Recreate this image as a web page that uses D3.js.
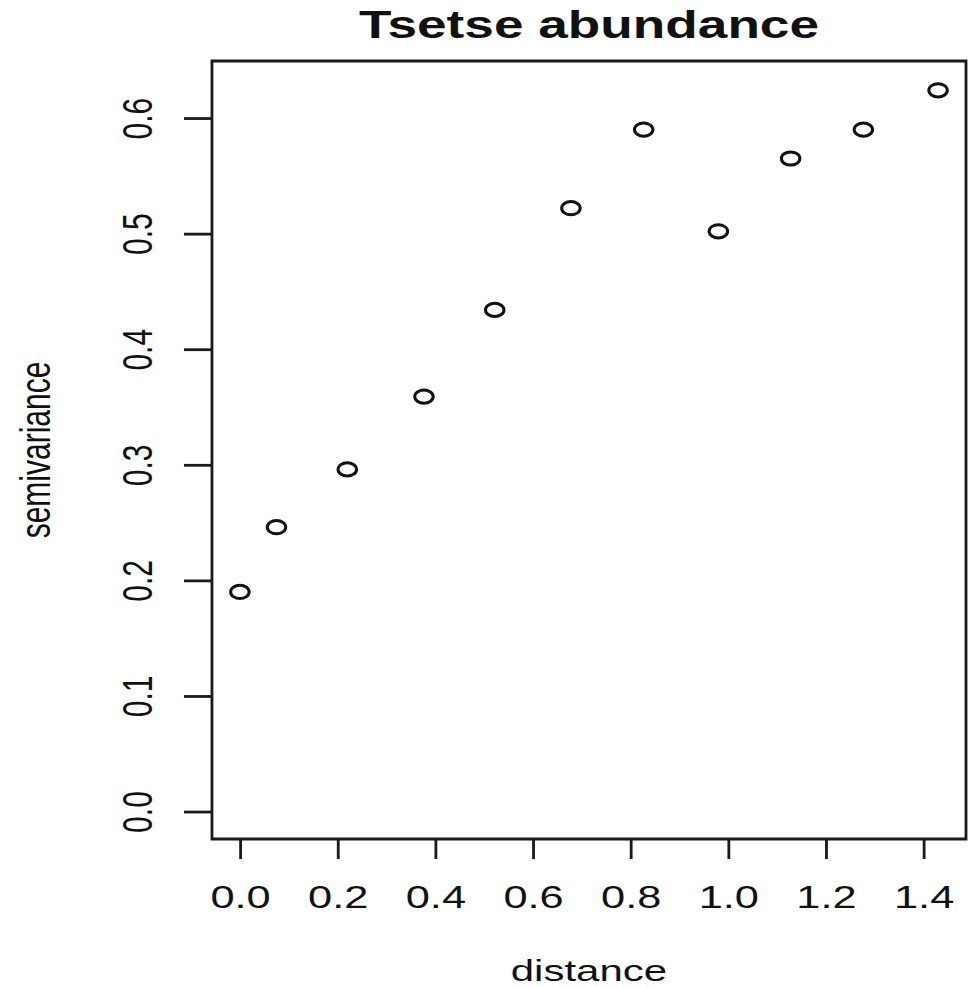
<!DOCTYPE html>
<html>
<head>
<meta charset="utf-8">
<script src="https://cdn.jsdelivr.net/npm/d3@7"></script>
<style>
  body { margin: 0; background: #fff; }
  svg text { font-family: "Liberation Sans", Arial, sans-serif; fill: #111; }
</style>
</head>
<body>
<svg id="canvas"></svg>
<script>
// semivariogram values
let distance     = [0.0, 0.075, 0.220, 0.377, 0.522, 0.678, 0.827, 0.980, 1.128, 1.277, 1.430];
let semivariance = [0.190, 0.246, 0.296, 0.359, 0.434, 0.522, 0.590, 0.502, 0.565, 0.590, 0.624];

let xTicks = [0, 0.2, 0.4, 0.6, 0.8, 1.0, 1.2, 1.4];
let yTicks = [0, 0.1, 0.2, 0.3, 0.4, 0.5, 0.6];

let width = 969;
let height = 987;
// the source image is stretched sideways, so draw narrow and stretch
let stretch = 1.4;
let innerWidth = width / stretch;

let plotLeft = 151.4, plotRight = 690, plotTop = 61, plotBottom = 839;

let canvas = d3.select("#canvas")
    .attr("width", width)
    .attr("height", height)
    .attr("viewBox", `0 0 ${innerWidth} ${height}`)
    .attr("preserveAspectRatio", "none");

// R pads the data range by 4% on each side
let xScale = d3.scaleLinear()
    .domain([-0.0572, 1.4872])
    .range([plotLeft, plotRight]);

let yScale = d3.scaleLinear()
    .domain([-0.02376, 0.64936])
    .range([plotBottom, plotTop]);

// box
canvas.append("rect")
    .attr("x", plotLeft)
    .attr("y", plotTop)
    .attr("width", plotRight - plotLeft)
    .attr("height", plotBottom - plotTop)
    .attr("fill", "none")
    .attr("stroke", "#1a1a1a")
    .attr("stroke-width", 2.8)
    .attr("vector-effect", "non-scaling-stroke");

let xAxis = d3.axisBottom(xScale)
    .tickValues(xTicks)
    .tickFormat(d3.format(".1f"))
    .tickSize(20);

let gx = canvas.append("g")
    .attr("transform", "translate(0," + plotBottom + ")")
    .call(xAxis);

gx.select(".domain").remove();
gx.selectAll("line")
    .attr("stroke", "#1a1a1a")
    .attr("stroke-width", 2.8)
    .attr("vector-effect", "non-scaling-stroke");
gx.selectAll("text")
    .attr("y", 69)
    .attr("dy", 0)
    .attr("font-size", 31)
    .attr("fill", "#111")
    .style("font-family", "'Liberation Sans', Arial, sans-serif");

let yAxis = d3.axisLeft(yScale)
    .tickValues(yTicks)
    .tickFormat(d3.format(".1f"))
    .tickSize(20);

let gy = canvas.append("g")
    .attr("transform", "translate(" + plotLeft + ",0)")
    .call(yAxis);

gy.select(".domain").remove();
gy.selectAll("line")
    .attr("stroke", "#1a1a1a")
    .attr("stroke-width", 2.8)
    .attr("vector-effect", "non-scaling-stroke");
gy.selectAll("text")
    .attr("x", 0)
    .attr("dy", 0)
    .attr("text-anchor", "middle")
    .attr("transform", "translate(-42.5,0) rotate(-90)")
    .attr("font-size", 30)
    .attr("fill", "#111")
    .style("font-family", "'Liberation Sans', Arial, sans-serif");

// points
canvas.selectAll("circle")
    .data(distance)
    .enter()
    .append("circle")
    .attr("cx", (d) => xScale(d))
    .attr("cy", (d, i) => yScale(semivariance[i]))
    .attr("r", 6.6)
    .attr("fill", "none")
    .attr("stroke", "#111")
    .attr("stroke-width", 3)
    .attr("vector-effect", "non-scaling-stroke");

// titles
let midX = (plotLeft + plotRight) / 2;

canvas.append("text")
    .attr("x", midX)
    .attr("y", 38)
    .attr("text-anchor", "middle")
    .attr("font-size", 38)
    .attr("font-weight", "bold")
    .text("Tsetse abundance");

canvas.append("text")
    .attr("x", midX)
    .attr("y", 981)
    .attr("text-anchor", "middle")
    .attr("font-size", 30)
    .text("distance");

canvas.append("text")
    .attr("transform", "translate(35.7," + ((plotTop + plotBottom) / 2) + ") rotate(-90)")
    .attr("text-anchor", "middle")
    .attr("font-size", 30)
    .text("semivariance");
</script>
</body>
</html>
